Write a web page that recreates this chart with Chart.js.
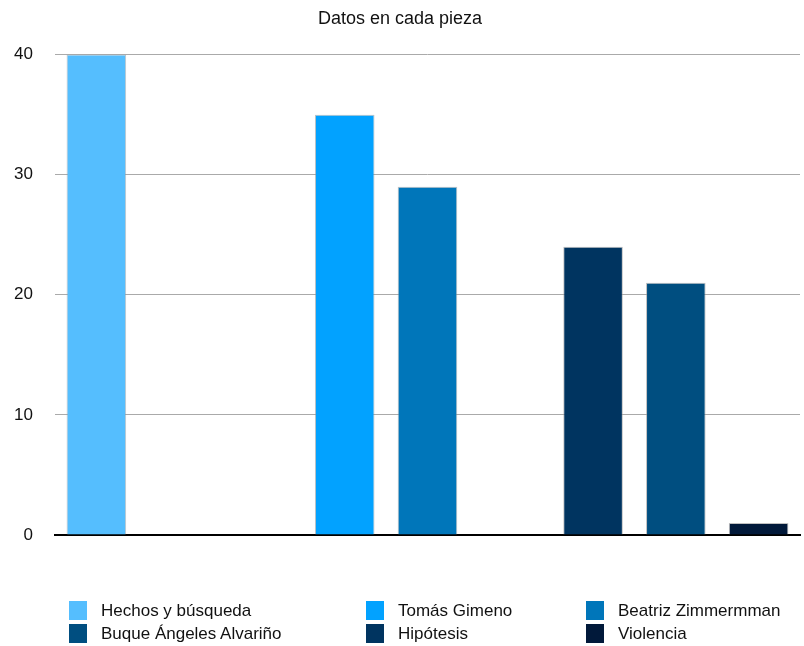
<!DOCTYPE html>
<html>
<head>
<meta charset="utf-8">
<script src="https://cdn.jsdelivr.net/npm/chart.js@4"></script>
<style>
  body { margin: 0; background: #fff; font-family: 'Liberation Sans', Arial, sans-serif; }
  #wrap { position: relative; width: 804px; height: 646px; }
  #legend { position: absolute; left: 0; top: 0; width: 804px; height: 646px; pointer-events: none; }
  .item { position: absolute; height: 19px; line-height: 19px; font-size: 17px; color: #111; white-space: nowrap; }
  .item span.box { position: absolute; left: 0; top: 0; width: 18px; height: 19px; }
  .item span.txt { position: absolute; left: 32px; top: 0; }
</style>
</head>
<body>
<div id="wrap">
  <canvas id="chart" width="804" height="646"></canvas>
  <div id="legend"></div>
</div>
<script>
const slots = ['', '', '', '', '', '', '', '', ''];
const seriesNames = ['Hechos y búsqueda', 'Tomás Gimeno', 'Beatriz Zimmermman', 'Buque Ángeles Alvariño', 'Hipótesis', 'Violencia'];
const seriesColors = ['#55BEFE', '#02A2FF', '#0076BA', '#004E80', '#003460', '#01193A'];
const seriesSlot = [0, 3, 4, 7, 6, 8];
const seriesValues = [40, 35, 29, 21, 24, 1];
const yTicks = [0, 10, 20, 30, 40];

const datasets = seriesNames.map((name, i) => {
    const data = slots.map(() => null);
    data[seriesSlot[i]] = seriesValues[i];
    return {
        label: name,
        data: data,
        backgroundColor: seriesColors[i],
        borderColor: 'rgba(150,150,150,0.6)',
        borderWidth: {top: 1, left: 1, right: 1, bottom: 0},
        barPercentage: 0.72,
        categoryPercentage: 1
    };
});

const ctx = document.getElementById('chart');

new Chart(ctx, {
    type: 'bar',
    data: { labels: slots, datasets: datasets },
    options: {
        responsive: false,
        animation: false,
        layout: { padding: { left: 0, right: 4, top: 0, bottom: 111 } },
        plugins: {
            legend: { display: false },
            tooltip: { enabled: false },
            title: {
                display: true,
                text: 'Datos en cada pieza',
                color: '#111',
                font: { family: 'Liberation Sans', size: 18, weight: 'normal' },
                padding: { top: 8, bottom: 25 }
            }
        },
        scales: {
            x: {
                stacked: true,
                ticks: { display: false },
                grid: { display: false, drawTicks: false },
                border: { color: '#000', width: 2 }
            },
            y: {
                min: 0,
                max: 40,
                afterBuildTicks: axis => { axis.ticks = yTicks.map(v => ({ value: v })); },
                afterFit: axis => { axis.width = 55; },
                ticks: {
                    color: '#111',
                    padding: 22,
                    font: { family: 'Liberation Sans', size: 17 }
                },
                grid: { color: '#aaaaaa', lineWidth: 1, drawTicks: false },
                border: { display: false }
            }
        }
    }
});

// legend, three columns like the original
const colX = [69, 366, 586];
const rowY = [601, 624];
const legend = document.getElementById('legend');
seriesNames.forEach((name, i) => {
    const el = document.createElement('div');
    el.className = 'item';
    el.style.left = colX[i % 3] + 'px';
    el.style.top = rowY[Math.floor(i / 3)] + 'px';
    el.innerHTML = '<span class="box" style="background:' + seriesColors[i] + '"></span><span class="txt">' + name + '</span>';
    legend.appendChild(el);
});
</script>
</body>
</html>
